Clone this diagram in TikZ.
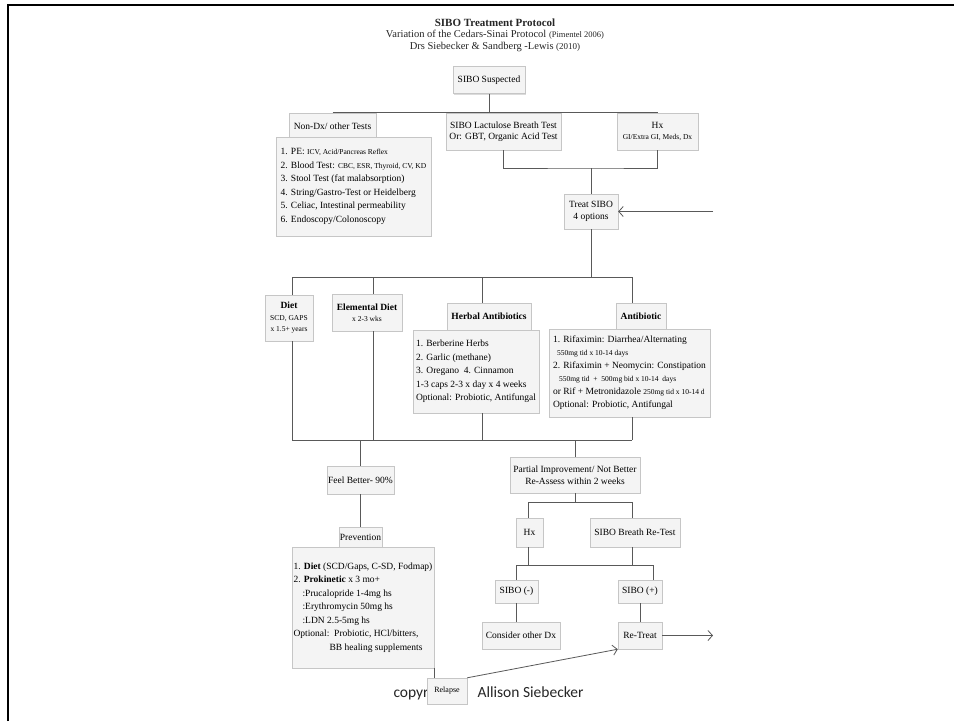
\documentclass[tikz,border=0pt]{standalone}
\usepackage{fontspec}
\setmainfont{Liberation Serif}
\newfontfamily\copyfont{Carlito}
\usepackage{tikz}
\usetikzlibrary{arrows.meta,positioning,shadows}

\newcommand{\subtxt}[1]{{\fontsize{7.5}{9}\selectfont #1}}

\begin{document}
\begin{tikzpicture}[x=1pt,y=-1pt,>={Straight Barb[length=4.5pt,width=10pt]},on grid]
\tikzset{box/.style={draw=gray!45,fill=gray!9,drop shadow={shadow xshift=1.2pt,shadow yshift=-1.2pt,fill=gray!55},
    inner sep=1pt,align=center,font=\fontsize{9.5}{11.5}\selectfont}}
\tikzset{listbox/.style={box,align=left,font=\fontsize{9.5}{13.5}\selectfont}}
\tikzset{conn/.style={draw=black!65,line width=0.8pt}}
\tikzset{credit/.style={anchor=base west,text=black!85,font=\copyfont\fontsize{15.5}{18}\selectfont}}
\useasboundingbox (0,0) rectangle (954,721);
\fill[white] (0,0) rectangle (954,721);
\draw[line width=2.5pt] (8,721) -- (8,5) -- (954,5);

    \node[align=center,text=black!85,font=\fontsize{10.5}{11.5}\selectfont] (title) at (495,35)
      {\textbf{\fontsize{11}{11.5}\selectfont SIBO Treatment Protocol}\\
       Variation of the Cedars-Sinai Protocol {\fontsize{8.5}{10}\selectfont (Pimentel 2006)}\\
       Drs Siebecker \& Sandberg -Lewis {\fontsize{9}{10}\selectfont (2010)}};

    \node[box,minimum width=72pt,minimum height=27pt] (suspected) at (489,80) {SIBO Suspected};
    \node[box,minimum width=87pt,minimum height=27pt] (nondx) [below left=46.5pt and 156.5pt of suspected] {Non-Dx/ other Tests};
    \node[box,minimum width=115pt,minimum height=37pt] (lactulose) [below right=51.5pt and 14.5pt of suspected] {SIBO Lactulose Breath Test\\Or: GBT, Organic Acid Test};
    \node[box,minimum width=81pt,minimum height=37pt] (hx) [right=154pt of lactulose] {Hx\\\subtxt{GI/Extra GI, Meds, Dx}};
    \node[listbox,minimum width=155pt,minimum height=99pt] (nondxlist) [below right=60pt and 21pt of nondx]
      {1. PE: \subtxt{ICV, Acid/Pancreas Reflex}\\
       2. Blood Test: \subtxt{CBC, ESR, Thyroid, CV, KD}\\
       3. Stool Test (fat malabsorption)\\
       4. String/Gastro-Test or Heidelberg\\
       5. Celiac, Intestinal permeability\\
       6. Endoscopy/Colonoscopy};
    \node[box,minimum width=54pt,minimum height=35pt] (treat) [below right=80pt and 87.5pt of lactulose] {Treat SIBO\\4 options};

    \node[box,minimum width=48pt,minimum height=46pt] (diet) [below left=106.5pt and 302pt of treat]
      {\textbf{Diet}\\\subtxt{SCD, GAPS}\\\subtxt{x 1.5+ years}};
    \node[box,minimum width=70pt,minimum height=37pt] (elemental) [below left=101pt and 224pt of treat]
      {\textbf{Elemental Diet}\\\subtxt{x 2-3 wks}};
    \node[listbox,minimum width=126pt,minimum height=83pt] (herballist) [below left=160pt and 115pt of treat]
      {1. Berberine Herbs\\
       2. Garlic (methane)\\
       3. Oregano\ \ 4. Cinnamon\\
       1-3 caps 2-3 x day x 4 weeks\\
       Optional: Probiotic, Antifungal};
    \node[box,minimum width=84pt,minimum height=27pt] (herbaltab) [above right=55pt and 13pt of herballist] {\textbf{Herbal Antibiotics}};
    \node[listbox,minimum width=161pt,minimum height=88pt,font=\fontsize{9.5}{13}\selectfont] (ablist) [below right=161.5pt and 38.5pt of treat]
      {1. Rifaximin: Diarrhea/Alternating\\
       \hspace*{4pt}\subtxt{550mg tid x 10-14 days}\\
       2. Rifaximin + Neomycin: Constipation\\
       \hspace*{6pt}\subtxt{550mg tid\ \ +\ \ 500mg bid x 10-14\ \ days}\\
       or Rif + Metronidazole \subtxt{250mg tid x 10-14 d}\\
       Optional: Probiotic, Antifungal};
    \node[box,minimum width=50pt,minimum height=26pt] (abtab) [above right=57pt and 11.5pt of ablist] {\textbf{Antibiotic}};

    \node[box,minimum width=61pt,minimum height=28pt] (feel) [below left=167.5pt and 6.5pt of elemental] {Feel Better- 90\%};
    \node[box,minimum width=41pt,minimum height=20pt] (prevtab) [below=57pt of feel] {Prevention};
    \node[listbox,minimum width=142pt,minimum height=121pt] (prevlist) [below right=70.5pt and 2.5pt of prevtab]
      {1. \textbf{Diet} (SCD/Gaps, C-SD, Fodmap)\\
       2. \textbf{Prokinetic} x 3 mo+\\
       \hspace*{9pt}:Prucalopride 1-4mg hs\\
       \hspace*{9pt}:Erythromycin 50mg hs\\
       \hspace*{9pt}:LDN 2.5-5mg hs\\
       Optional:\ \ Probiotic, HCl/bitters,\\
       \hspace*{36pt}BB healing supplements};

    \node[box,minimum width=130pt,minimum height=36pt] (partial) [below left=263.5pt and 16pt of treat]
      {Partial Improvement/ Not Better\\Re-Assess within 2 weeks};
    \node[box,minimum width=27pt,minimum height=29pt] (hx2) [below left=57.5pt and 45.5pt of partial] {Hx};
    \node[box,minimum width=90pt,minimum height=29pt] (retest) [right=105.5pt of hx2] {SIBO Breath Re-Test};
    \node[box,minimum width=43pt,minimum height=23pt] (minus) [below left=59pt and 13pt of hx2] {SIBO (-)};
    \node[box,minimum width=44pt,minimum height=23pt] (plus) [below right=59pt and 5pt of retest] {SIBO (+)};
    \node[box,minimum width=78pt,minimum height=27pt] (consider) [below right=44pt and 4.5pt of minus] {Consider other Dx};
    \node[box,minimum width=44pt,minimum height=27pt] (retreat) [below=44pt of plus] {Re-Treat};

    \node[credit] (copyleft) at (390,697) {copyri};
    \node[credit] (author) at (474,697) {Allison Siebecker};
    \node[box,minimum width=40pt,minimum height=26pt,font=\fontsize{8}{10}\selectfont] (relapse) [below right=83.5pt and 84pt of prevlist] {Relapse};

    \coordinate (j1) at (591,168);
    \coordinate[right=122pt of treat] (back);
    \coordinate (t1) at (292,277);
    \coordinate (t2) at (373,277);
    \coordinate (t3) at (482,277);
    \coordinate (t4) at (632,277);
    \coordinate (u1) at (292,440);
    \coordinate (u2) at (373,440);
    \coordinate (u3) at (482,440);
    \coordinate (u4) at (632,440);
    \coordinate (k1) at (528,502);
    \coordinate (k2) at (632,502);
    \coordinate (m1) at (516,565);
    \coordinate (m2) at (653,565);
    \coordinate[right=73pt of retreat] (out);

    \draw[conn] (suspected) -- (suspected |- nondx.north);
    \draw[conn] (nondx.north) -- (hx.north);
    \draw[conn] (lactulose.south) |- (j1) -| (hx.south);
    \draw[conn] (j1) -- (treat);
    \draw[conn,->] (back) -- (treat);
    \draw[conn] (treat) -- (treat |- t1);
    \draw[conn] (t1) -- (t4);
    \draw[conn] (t1) -- (t1 |- diet.north);
    \draw[conn] (diet.south -| t1) -- (u1);
    \draw[conn] (t2) -- (t2 |- elemental.north);
    \draw[conn] (elemental.south -| t2) -- (u2);
    \draw[conn] (t3) -- (t3 |- herbaltab.north);
    \draw[conn] (herballist.south -| t3) -- (u3);
    \draw[conn] (t4) -- (t4 |- abtab.north);
    \draw[conn] (ablist.south -| t4) -- (u4);
    \draw[conn] (u1) -- (u4);
    \draw[conn] (feel) -- (feel |- u1);
    \draw[conn] (feel) -- (prevtab);
    \draw[conn] (partial) -- (partial |- u1);
    \draw[conn] (partial) -- (partial |- k1);
    \draw[conn] (k1) -- (k2);
    \draw[conn] (k1) -- (k1 |- hx2.north);
    \draw[conn] (k2) -- (k2 |- retest.north);
    \draw[conn] (hx2.south -| k1) -- (k1 |- m1);
    \draw[conn] (retest.south -| k2) -- (k2 |- m1);
    \draw[conn] (m1) -- (m2);
    \draw[conn] (m1) -- (m1 |- minus.north);
    \draw[conn] (m2) -- (m2 |- plus.north);
    \draw[conn] (minus) -- (minus |- consider.north);
    \draw[conn] (plus) -- (retreat);
    \draw[conn,->] (retreat) -- (out);
    \draw[conn] (prevlist.south east) -- (prevlist.south east |- relapse.north);
    \draw[conn,->] (relapse.north east) -- (retreat.south west);

\end{tikzpicture}
\end{document}
